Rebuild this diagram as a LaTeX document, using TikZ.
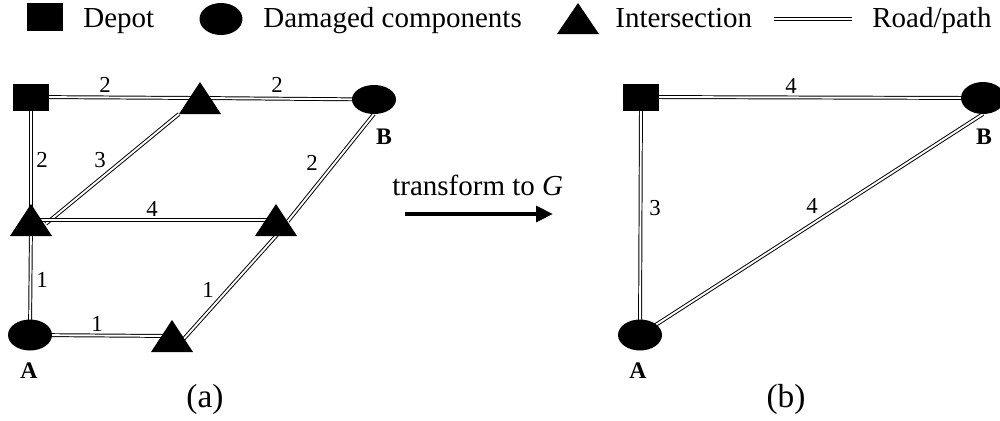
\documentclass[tikz,border=0pt]{standalone}
\usepackage{fontspec}
\setmainfont{Liberation Serif}
\usetikzlibrary{arrows.meta,shapes.geometric,calc}
\pgfdeclarelayer{bg}
\pgfsetlayers{bg,main}
\tikzset{
  depot/.style={rectangle, fill=black, minimum width=0.72cm, minimum height=0.54cm, inner sep=0pt, outer sep=0pt},
  damaged/.style={ellipse, fill=black, minimum width=0.88cm, minimum height=0.62cm, inner sep=0pt, outer sep=0pt},
  inter/.style={rectangle, draw=none, minimum width=0.84cm, minimum height=0.64cm, inner sep=0pt, outer sep=0pt,
    path picture={\fill[black] (path picture bounding box.south west) -- (path picture bounding box.south east) -- (path picture bounding box.north) -- cycle;}},
  road/.style={draw=black, line width=0.55pt, double=white, double distance=1.1pt},
  wlabel/.style={font=\fontsize{13}{15}\selectfont, inner sep=0pt},
  vlabel/.style={font=\fontsize{13.5}{15}\selectfont\bfseries, inner sep=0pt},
  legtext/.style={font=\fontsize{16.5}{20}\selectfont, anchor=base west, inner sep=0pt},
  captext/.style={font=\fontsize{19}{22}\selectfont, anchor=base, inner sep=0pt},
  bigarrow/.style={line width=2.8pt, -{Triangle[length=9.6pt,width=8.8pt]}},
}
\begin{document}
\begin{tikzpicture}[x=0.02cm,y=-0.02cm]
\clip (0,0) rectangle (1000,420);
% legend
\node[depot, minimum width=0.74cm, minimum height=0.56cm] (lgD) at (45,17) {};
\node[legtext] (lgDt) at (83,27.5) {Depot};
\node[damaged, minimum width=0.86cm, minimum height=0.64cm] (lgC) at (221,19) {};
\node[legtext] (lgCt) at (263,27.5) {Damaged components};
\node[inter, minimum height=0.62cm] (lgI) at (578,18.5) {};
\node[legtext] (lgIt) at (615,27.5) {Intersection};
\coordinate (lgR1) at (774,19);
\coordinate (lgR2) at (852,19);
\draw[road] (lgR1) -- (lgR2);
\node[legtext] (lgRt) at (872,27.5) {Road/path};

% graph (a)
\node[depot] (aD) at (31,97) {};
\node[inter] (aT1) at (200,98) {};
\node[damaged, minimum height=0.58cm] (aB) at (374,99.5) {};
\node[inter] (aT2) at (31,220) {};
\node[inter] (aT3) at (276,220) {};
\node[damaged] (aA) at (30,335) {};
\node[inter] (aT4) at (172,336) {};
\node[vlabel] (aBl) at (384,137) {B};
\node[vlabel] (aAl) at (29,371) {A};

\begin{pgfonlayer}{bg}
\draw[road] (aD.center) -- (aT1.center);
\draw[road] (aT1.center) -- (aB.center);
\draw[road] (aD.center) -- (aT2.center);
\draw[road] ($(aT2.south)!0.1!(aT1.south west)$) -- (aT1.south west);
\draw[road] (aT2.center) -- (aT3.center);
\draw[road] (aB.south) -- ($(aT3.south)!0.12!(aB.south)$);
\draw[road] (aT2.center) -- (aA.center);
\draw[road] (aA.center) -- (aT4.center);
\draw[road] ($(aT4.south)!0.08!(aT3.south)$) -- ($(aT3.south)!-0.06!(aT4.south)$);
\end{pgfonlayer}

\node[wlabel] (w1) at (105,85) {2};
\node[wlabel] (w2) at (277,85) {2};
\node[wlabel] (w3) at (42,160) {2};
\node[wlabel] (w4) at (100,160) {3};
\node[wlabel] (w5) at (152,209) {4};
\node[wlabel] (w6) at (312,163) {2};
\node[wlabel] (w7) at (42,280) {1};
\node[wlabel] (w8) at (97,324) {1};
\node[wlabel] (w9) at (208,290) {1};
\node[captext] (capa) at (205,407) {(a)};

% transform arrow
\node[legtext] (trt) at (392,195) {transform to \textit{G}};
\coordinate (arS) at (405,214);
\coordinate (arE) at (553,214);
\draw[bigarrow] (arS) -- (arE);

% graph (b)
\node[depot] (bD) at (641,97) {};
\node[damaged, minimum height=0.64cm] (bB) at (983,98) {};
\node[damaged] (bA) at (640,335) {};
\node[vlabel] (bBl) at (984,137) {B};
\node[vlabel] (bAl) at (638,371) {A};
\begin{pgfonlayer}{bg}
\draw[road] (bD.center) -- (bB.center);
\draw[road] (bD.center) -- (bA.center);
\draw[road] (bA.center) -- (bB.south);
\end{pgfonlayer}
\node[wlabel] (v1) at (791,86) {4};
\node[wlabel] (v2) at (655,208) {3};
\node[wlabel] (v3) at (812,206) {4};
\node[captext] (capb) at (786,407) {(b)};
\end{tikzpicture}
\end{document}
